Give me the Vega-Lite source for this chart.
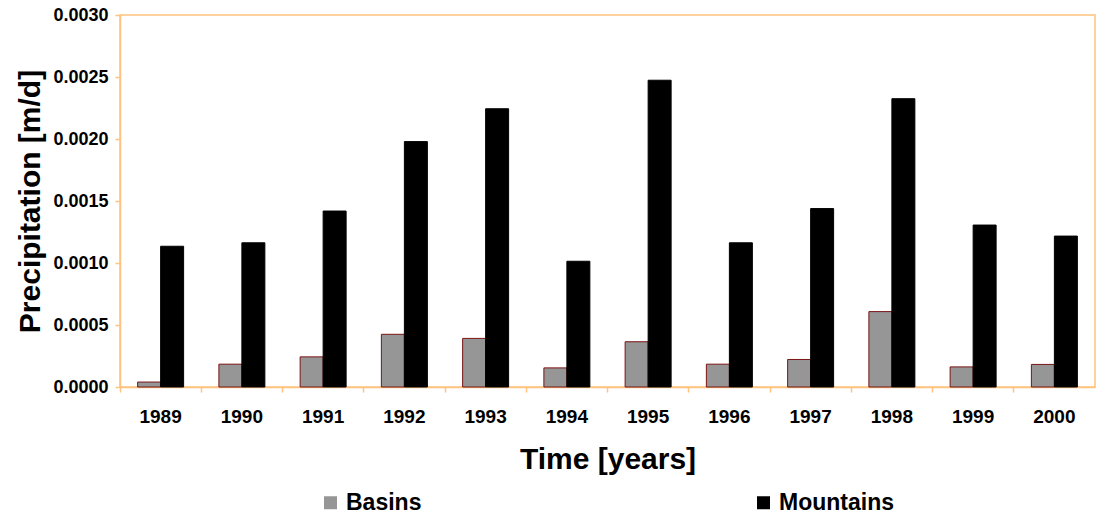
{
  "$schema": "https://vega.github.io/schema/vega-lite/v6.json",
  "width": 975,
  "height": 372,
  "autosize": {"type": "none"},
  "padding": {"left": 120, "top": 15, "right": 5, "bottom": 134},
  "background": "#ffffff",
  "config": {
    "font": "Liberation Sans",
    "view": {"stroke": "#FFC27F", "strokeWidth": 1.5},
    "axis": {
      "domainColor": "#FFC27F",
      "domainWidth": 1.5,
      "tickColor": "#FFC27F",
      "tickWidth": 1.5,
      "tickSize": 5,
      "grid": false,
      "labelFont": "Liberation Sans",
      "labelFontWeight": "bold",
      "labelColor": "#000000",
      "titleFont": "Liberation Sans",
      "titleFontWeight": "bold",
      "titleColor": "#000000"
    }
  },
  "data": {
    "values": [
      {"year": "1989", "series": "Basins", "precip": 0.00004},
      {"year": "1990", "series": "Basins", "precip": 0.000184},
      {"year": "1991", "series": "Basins", "precip": 0.000243},
      {"year": "1992", "series": "Basins", "precip": 0.000425},
      {"year": "1993", "series": "Basins", "precip": 0.000392},
      {"year": "1994", "series": "Basins", "precip": 0.000154},
      {"year": "1995", "series": "Basins", "precip": 0.000365},
      {"year": "1996", "series": "Basins", "precip": 0.000184},
      {"year": "1997", "series": "Basins", "precip": 0.000222},
      {"year": "1998", "series": "Basins", "precip": 0.000608},
      {"year": "1999", "series": "Basins", "precip": 0.000162},
      {"year": "2000", "series": "Basins", "precip": 0.000182},
      {"year": "1989", "series": "Mountains", "precip": 0.001135},
      {"year": "1990", "series": "Mountains", "precip": 0.001163},
      {"year": "1991", "series": "Mountains", "precip": 0.001419},
      {"year": "1992", "series": "Mountains", "precip": 0.001979},
      {"year": "1993", "series": "Mountains", "precip": 0.002244},
      {"year": "1994", "series": "Mountains", "precip": 0.001014},
      {"year": "1995", "series": "Mountains", "precip": 0.002474},
      {"year": "1996", "series": "Mountains", "precip": 0.001163},
      {"year": "1997", "series": "Mountains", "precip": 0.001439},
      {"year": "1998", "series": "Mountains", "precip": 0.002325},
      {"year": "1999", "series": "Mountains", "precip": 0.001306},
      {"year": "2000", "series": "Mountains", "precip": 0.001217}
    ]
  },
  "mark": {"type": "bar", "strokeWidth": 1},
  "encoding": {
    "x": {
      "field": "year",
      "type": "ordinal",
      "scale": {"paddingInner": 0.434, "paddingOuter": 0.217},
      "axis": {
        "title": "Time [years]",
        "labelAngle": 0,
        "labelFontSize": 19,
        "labelPadding": 15,
        "titleFontSize": 30,
        "titlePadding": 18,
        "bandPosition": -0.3833
      }
    },
    "xOffset": {
      "field": "series",
      "type": "nominal",
      "sort": ["Basins", "Mountains"],
      "scale": {"paddingInner": 0, "paddingOuter": 0}
    },
    "y": {
      "field": "precip",
      "type": "quantitative",
      "scale": {"domain": [0, 0.003], "nice": false},
      "axis": {
        "title": "Precipitation [m/d]",
        "values": [0, 0.0005, 0.001, 0.0015, 0.002, 0.0025, 0.003],
        "format": ".4f",
        "labelFontSize": 18,
        "labelPadding": 7,
        "titleFontSize": 30,
        "titlePadding": 7
      }
    },
    "color": {
      "field": "series",
      "type": "nominal",
      "sort": ["Basins", "Mountains"],
      "scale": {"domain": ["Basins", "Mountains"], "range": ["#969696", "#000000"]},
      "legend": {
        "title": null,
        "orient": "none",
        "legendX": 199,
        "legendY": 476,
        "direction": "horizontal",
        "columns": 2,
        "columnPadding": 330,
        "padding": 0,
        "symbolType": "square",
        "symbolSize": 169,
        "symbolStrokeWidth": 0,
        "symbolOpacity": 1,
        "labelFont": "Liberation Sans",
        "labelFontWeight": "bold",
        "labelFontSize": 23,
        "labelColor": "#000000",
        "labelOffset": 4
      }
    },
    "stroke": {
      "field": "series",
      "type": "nominal",
      "scale": {"domain": ["Basins", "Mountains"], "range": ["#7a1414", "#000000"]},
      "legend": null
    }
  }
}
